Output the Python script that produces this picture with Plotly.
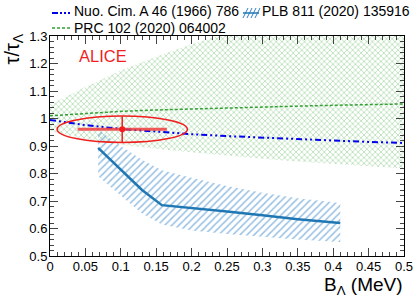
import plotly.graph_objects as go

# ---------------- data ----------------
# Nuo. Cim. A 46 (1966) 786
nuo_b = [0, 0.05, 0.1, 0.15, 0.2, 0.25, 0.3, 0.35, 0.4, 0.45, 0.5]
nuo_ratio = [0.995, 0.976, 0.962, 0.952, 0.943, 0.936, 0.930, 0.925, 0.920, 0.915, 0.911]

# PRC 102 (2020) 064002
prc_b = [0, 0.05, 0.1, 0.15, 0.2, 0.25, 0.3, 0.35, 0.4, 0.45, 0.5]
prc_ratio = [1.010, 1.019, 1.026, 1.031, 1.035, 1.039, 1.042, 1.045, 1.048, 1.051, 1.053]
prc_upper = [1.050, 1.115, 1.175, 1.225, 1.270, 1.310, 1.345, 1.380, 1.410, 1.440, 1.470]
prc_lower = [0.955, 0.925, 0.905, 0.890, 0.877, 0.865, 0.854, 0.844, 0.835, 0.826, 0.818]

# PLB 811 (2020) 135916
plb_b = [0.068, 0.1, 0.13, 0.158, 0.2, 0.25, 0.3, 0.35, 0.41]
plb_ratio = [0.893, 0.815, 0.740, 0.685, 0.675, 0.662, 0.648, 0.634, 0.620]
plb_upper = [0.960, 0.900, 0.850, 0.812, 0.785, 0.755, 0.730, 0.710, 0.693]
plb_lower = [0.790, 0.720, 0.655, 0.615, 0.593, 0.580, 0.570, 0.560, 0.551]

# ALICE measurement
alice_b = 0.102
alice_ratio = 0.961
alice_b_err = 0.063
alice_ratio_err = 0.047
alice_ellipse_rb = 0.092
alice_ellipse_rratio = 0.048

# ticks
x_tick_vals = [0, 0.05, 0.1, 0.15, 0.2, 0.25, 0.3, 0.35, 0.4, 0.45, 0.5]
x_tick_text = ["0", "0.05", "0.1", "0.15", "0.2", "0.25", "0.3", "0.35", "0.4", "0.45", "0.5"]
y_tick_vals = [0.5, 0.6, 0.7, 0.8, 0.9, 1.0, 1.1, 1.2, 1.3]
y_tick_text = ["0.5", "0.6", "0.7", "0.8", "0.9", "1", "1.1", "1.2", "1.3"]

legend_labels = ["Nuo. Cim. A 46 (1966) 786", "PLB 811 (2020) 135916", "PRC 102 (2020) 064002"]

# ---------------- styling ----------------
FONT = "Liberation Sans, Arial, sans-serif"
GREEN_LINE = "rgb(50,160,50)"
GREEN_HATCH = "rgba(80,175,80,0.9)"
NUO_BLUE = "rgb(0,0,235)"
PLB_BLUE = "rgb(31,119,180)"
PLB_HATCH = "rgb(50,130,200)"
RED = "rgb(240,30,30)"

W, H = 415, 298
ML, MR, MT, MB = 50, 11, 36, 42
PW, PH = W - ML - MR, H - MT - MB


def px(xp):
    return (xp - ML) / PW


def py(yp):
    return (H - MB - yp) / PH


fig = go.Figure()

# PRC band (cross hatched)
fig.add_trace(go.Scatter(
    x=prc_b + prc_b[::-1], y=prc_upper + prc_lower[::-1],
    mode="lines", line=dict(width=0), fill="toself",
    fillcolor="rgba(0,0,0,0)",
    fillpattern=dict(shape="x", fgcolor=GREEN_HATCH, bgcolor="rgba(0,0,0,0)",
                     size=4, solidity=0.35),
    hoverinfo="skip", showlegend=False))

# PLB band (diagonal hatch)
fig.add_trace(go.Scatter(
    x=plb_b + plb_b[::-1], y=plb_upper + plb_lower[::-1],
    mode="lines", line=dict(width=0), fill="toself",
    fillcolor="rgba(0,0,0,0)",
    fillpattern=dict(shape="/", fgcolor=PLB_HATCH, bgcolor="rgba(0,0,0,0)",
                     size=5, solidity=0.3),
    hoverinfo="skip", showlegend=False))

# PLB central line
fig.add_trace(go.Scatter(x=plb_b, y=plb_ratio, mode="lines",
                         line=dict(color=PLB_BLUE, width=2.5),
                         name=legend_labels[1], showlegend=False))

# PRC central line
fig.add_trace(go.Scatter(x=prc_b, y=prc_ratio, mode="lines",
                         line=dict(color=GREEN_LINE, width=1.5, dash="3px,2px"),
                         name=legend_labels[2], showlegend=False))

# Nuo line
fig.add_trace(go.Scatter(x=nuo_b, y=nuo_ratio, mode="lines",
                         line=dict(color=NUO_BLUE, width=2, dash="6px,3px,2px,3px,2px,3px"),
                         name=legend_labels[0], showlegend=False))

# ALICE point
fig.add_trace(go.Scatter(
    x=[alice_b], y=[alice_ratio], mode="markers",
    marker=dict(color=RED, size=6),
    error_x=dict(type="data", array=[alice_b_err], color="rgba(240,60,60,0.85)",
                 thickness=3, width=0),
    error_y=dict(type="data", array=[alice_ratio_err], color=RED,
                 thickness=1.5, width=0),
    name="ALICE", showlegend=False))

shapes = []
# ALICE ellipse
shapes.append(dict(type="circle", xref="x", yref="y",
                   x0=alice_b - alice_ellipse_rb, x1=alice_b + alice_ellipse_rb,
                   y0=alice_ratio - alice_ellipse_rratio, y1=alice_ratio + alice_ellipse_rratio,
                   line=dict(color=RED, width=1.5), layer="above"))

# legend swatches (manual legend)
shapes.append(dict(type="line", xref="paper", yref="paper",
                   x0=px(52), x1=px(70), y0=py(13), y1=py(13),
                   line=dict(color=NUO_BLUE, width=2, dash="6px,2px,2px,2px,2px,2px")))
shapes.append(dict(type="line", xref="paper", yref="paper",
                   x0=px(52), x1=px(70), y0=py(28), y1=py(28),
                   line=dict(color=GREEN_LINE, width=1.5, dash="3px,2px")))
# PLB hatched swatch
for k in range(4):
    x0 = 243 + k * 4
    shapes.append(dict(type="line", xref="paper", yref="paper",
                       x0=px(x0), x1=px(x0 + 5), y0=py(18), y1=py(8),
                       line=dict(color=PLB_HATCH, width=1)))
shapes.append(dict(type="line", xref="paper", yref="paper",
                   x0=px(243), x1=px(259), y0=py(13), y1=py(13),
                   line=dict(color=PLB_BLUE, width=1.5)))

annotations = [
    dict(text=legend_labels[0], x=px(72), y=py(11), xref="paper", yref="paper",
         xanchor="left", yanchor="middle", showarrow=False,
         font=dict(family=FONT, size=14, color="black")),
    dict(text=legend_labels[1], x=px(260), y=py(11), xref="paper", yref="paper",
         xanchor="left", yanchor="middle", showarrow=False,
         font=dict(family=FONT, size=14, color="black")),
    dict(text=legend_labels[2], x=px(72), y=py(28), xref="paper", yref="paper",
         xanchor="left", yanchor="middle", showarrow=False,
         font=dict(family=FONT, size=14, color="black")),
    dict(text="ALICE", x=px(77), y=py(56), xref="paper", yref="paper",
         xanchor="left", yanchor="middle", showarrow=False,
         font=dict(family=FONT, size=16.5, color=RED)),
    dict(text="τ/τ<sub>Λ</sub>", x=px(13), y=py(32), xref="paper", yref="paper",
         xanchor="center", yanchor="top", textangle=-90, showarrow=False,
         font=dict(family=FONT, size=20, color="black")),
    dict(text="B<sub>Λ</sub> (MeV)", x=px(405), y=py(286), xref="paper", yref="paper",
         xanchor="right", yanchor="middle", showarrow=False,
         font=dict(family=FONT, size=19, color="black")),
]

axis_common = dict(
    showline=True, linecolor="black", linewidth=1, mirror="allticks",
    ticks="inside", ticklen=8, tickcolor="#444", tickwidth=1,
    showgrid=False, zeroline=False,
    tickfont=dict(family=FONT, size=13, color="black"),
)

fig.update_layout(
    width=W, height=H,
    margin=dict(l=ML, r=MR, t=MT, b=MB, pad=0),
    paper_bgcolor="white", plot_bgcolor="white",
    xaxis=dict(range=[0, 0.5], tickmode="array", tickvals=x_tick_vals, ticktext=x_tick_text,
               minor=dict(ticks="inside", ticklen=4, tickcolor="#444", tick0=0, dtick=0.01),
               ticklabelstandoff=-2, automargin=False, **axis_common),
    yaxis=dict(range=[0.5, 1.3], tickmode="array", tickvals=y_tick_vals, ticktext=y_tick_text,
               minor=dict(ticks="inside", ticklen=4, tickcolor="#444", tick0=0.5, dtick=0.02),
               ticklabelstandoff=-1, automargin=False, **axis_common),
    shapes=shapes,
    annotations=annotations,
    showlegend=False,
)

fig.write_html("out.html", config={"displayModeBar": False},
               post_script="document.body.style.margin='0px';")
